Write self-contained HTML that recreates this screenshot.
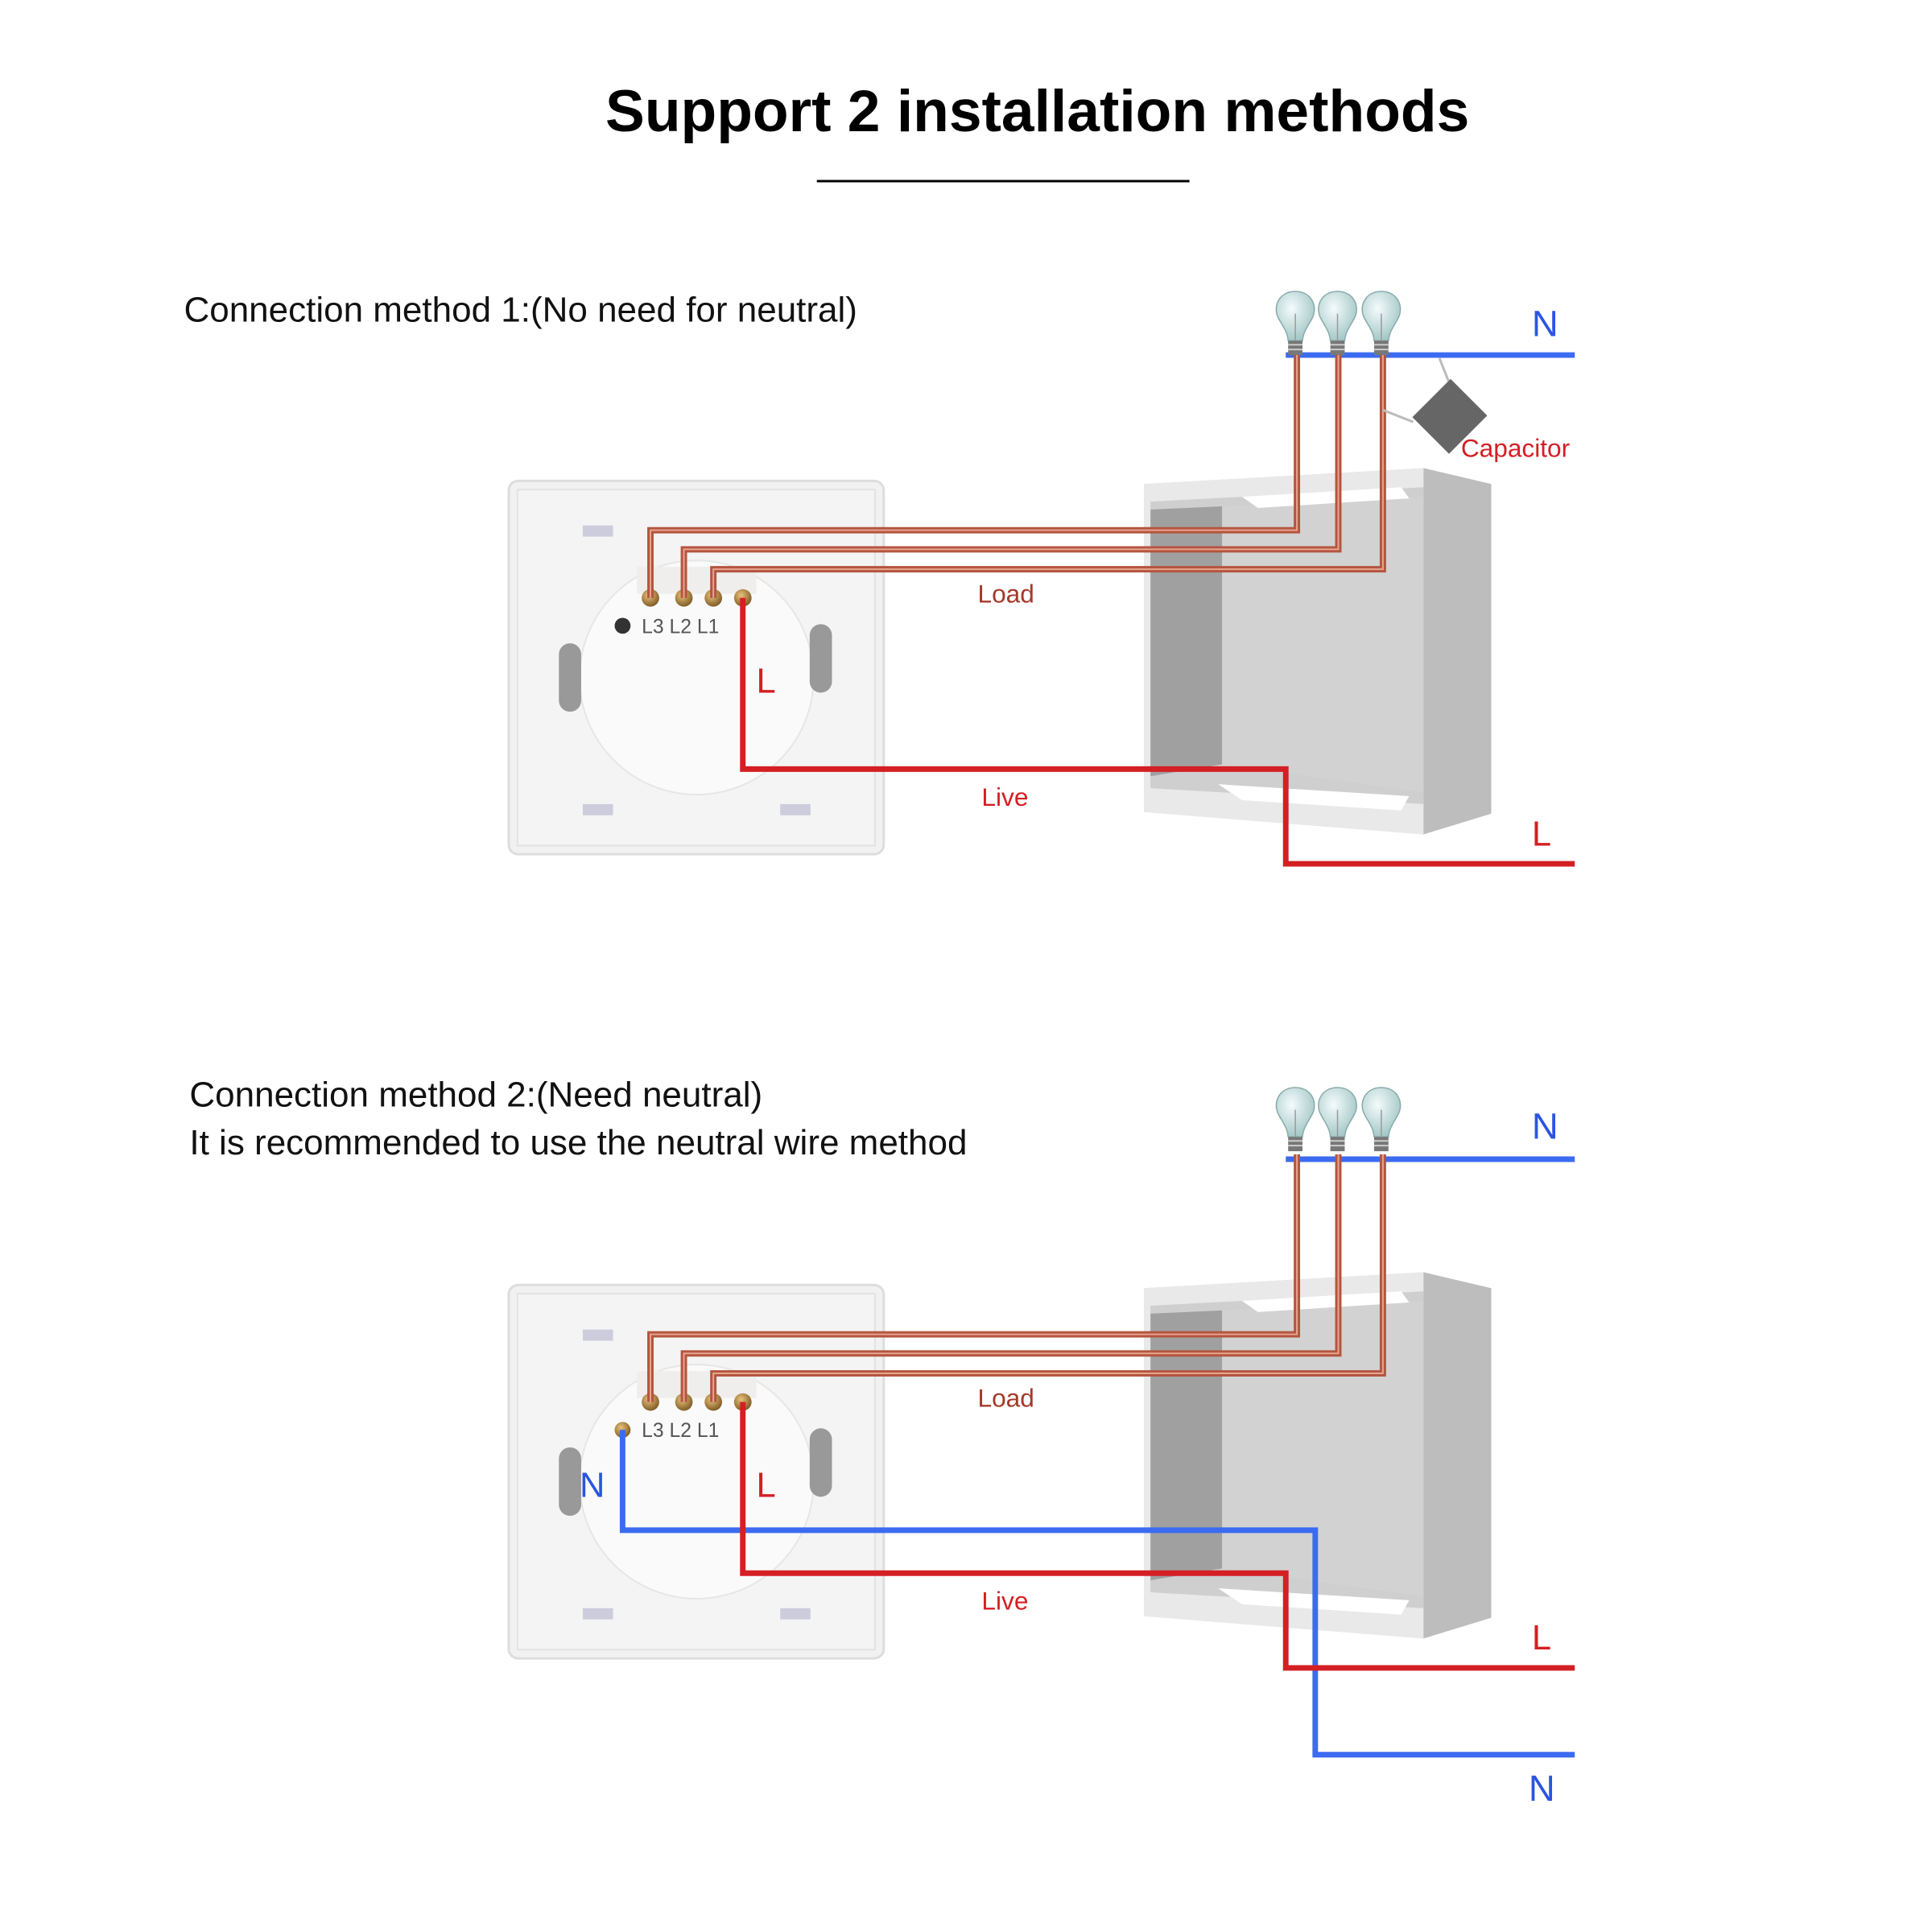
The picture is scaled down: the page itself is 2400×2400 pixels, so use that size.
<!DOCTYPE html>
<html><head><meta charset="utf-8"><style>
html,body{margin:0;padding:0;background:#fff;}
svg{display:block;}
text{font-family:"Liberation Sans",Arial,sans-serif;}
</style></head><body>
<svg width="2400" height="2400" viewBox="0 0 2400 2400" xmlns="http://www.w3.org/2000/svg">
<defs>
<radialGradient id="bulb" cx="0.4" cy="0.35" r="0.7"><stop offset="0" stop-color="#f4fbfb"/><stop offset="1" stop-color="#9fc4c4"/></radialGradient>
<radialGradient id="term" cx="0.4" cy="0.35" r="0.7"><stop offset="0" stop-color="#e8c27a"/><stop offset="1" stop-color="#7a5520"/></radialGradient>
<g id="bulbg">
<path d="M0,-48 c-20,0 -28,18 -22,32 c6,12 12,18 13,30 h18 c1,-12 7,-18 13,-30 c6,-14 -2,-32 -22,-32z" fill="url(#bulb)" stroke="#8aa" stroke-width="1.5"/>
<rect x="-9" y="14" width="18" height="18" fill="#777"/>
<line x1="-9" y1="19" x2="9" y2="19" stroke="#ccc" stroke-width="2"/><line x1="-9" y1="25" x2="9" y2="25" stroke="#ccc" stroke-width="2"/>
<line x1="0" y1="-20" x2="0" y2="14" stroke="#999" stroke-width="1.5"/>
</g>
<g id="plate">
<rect x="639" y="604" width="471" height="469" rx="12" fill="#f1f1f1" stroke="#ddd" stroke-width="3"/>
<rect x="650" y="615" width="449" height="447" fill="#f4f4f4" stroke="#e2e2e2" stroke-width="2"/>
<rect x="732" y="660" width="38" height="14" fill="#ccd"/>
<rect x="732" y="1010" width="38" height="14" fill="#ccd"/>
<rect x="980" y="1010" width="38" height="14" fill="#ccd"/>
<circle cx="875" cy="851" r="147" fill="#fafafa" stroke="#e6e6e6" stroke-width="2"/>
<rect x="702" y="808" width="28" height="86" rx="14" fill="#999"/>
<rect x="1017" y="784" width="28" height="86" rx="14" fill="#999"/>
<rect x="800" y="712" width="150" height="34" fill="#f0eded"/>
<circle cx="817" cy="751" r="11" fill="url(#term)"/>
<circle cx="859" cy="751" r="11" fill="url(#term)"/>
<circle cx="896" cy="751" r="11" fill="url(#term)"/>
<circle cx="933" cy="751" r="11" fill="url(#term)"/>
<text x="806" y="795" font-size="25" fill="#555">L3 L2 L1</text>
</g>
<g id="box">
<polygon points="1437,608 1788,588 1873,608 1873,1022 1788,1048 1437,1020" fill="#d6d6d6"/>
<polygon points="1788,588 1873,608 1873,1022 1788,1048" fill="#bdbdbd"/>
<polygon points="1445,630 1788,612 1788,1010 1445,990" fill="#cfcfcf"/>
<polygon points="1445,640 1535,636 1535,960 1445,975" fill="#a0a0a0"/>
<polygon points="1535,636 1788,624 1788,995 1535,960" fill="#d2d2d2"/>
<polygon points="1437,608 1788,588 1788,612 1445,630 1445,990 1788,1010 1788,1048 1437,1020" fill="#e9e9e9"/>
<polygon points="1560,624 1760,612 1770,626 1580,638" fill="#fff"/>
<polygon points="1530,985 1770,1000 1760,1018 1560,1005" fill="#fff"/>
</g>
</defs>
<g transform="scale(0.989)">
<text x="1303" y="165" font-size="74" font-weight="bold" text-anchor="middle" fill="#000">Support 2 installation methods</text>
<rect x="1026" y="226" width="468" height="3" fill="#000"/>

<text x="231" y="404" font-size="44.5" fill="#111">Connection method 1:(No need for neutral)</text>
<use href="#plate"/>
<use href="#box"/>
<g fill="none" stroke-linejoin="miter">
<path d="M1615,446 H1978" stroke="#3b6bf0" stroke-width="7"/>
<path d="M1629,440 V666 H817 V751 M1681,440 V690 H859 V751 M1737,440 V715 H896 V751" stroke="#b4553f" stroke-width="8"/>
<path d="M1629,440 V666 H817 V751 M1681,440 V690 H859 V751 M1737,440 V715 H896 V751" stroke="#e8a590" stroke-width="2"/>
<path d="M933,751 V966 H1615 V1085 H1978" stroke="#d41f24" stroke-width="7"/>
<path d="M1808,450 L1820,480 M1737,515 L1775,530" stroke="#bbb" stroke-width="3"/>
</g>
<polygon points="1822,476 1868,522 1820,570 1774,524" fill="#666"/>
<use href="#bulbg" x="1627" y="414"/><use href="#bulbg" x="1680" y="414"/><use href="#bulbg" x="1735" y="414"/>
<text x="1924" y="422" font-size="46" fill="#2a55e0">N</text>
<text x="1835" y="574" font-size="32" fill="#d41f24">Capacitor</text>
<text x="1228" y="757" font-size="32" fill="#a33a2a">Load</text>
<text x="1233" y="1012" font-size="32" fill="#d41f24">Live</text>
<text x="950" y="870" font-size="44" fill="#d41f24">L</text>
<text x="1924" y="1062" font-size="44" fill="#d41f24">L</text>
<circle cx="782" cy="786" r="10" fill="#333"/>

<text x="238" y="1390" font-size="44.5" fill="#111">Connection method 2:(Need neutral)</text>
<text x="238" y="1450" font-size="44.5" fill="#111">It is recommended to use the neutral wire method</text>
<g transform="translate(0,1010)">
<use href="#plate"/>
<use href="#box"/>
<circle cx="782" cy="786" r="10" fill="url(#term)"/>
<g fill="none">
<path d="M1615,446 H1978" stroke="#3b6bf0" stroke-width="7"/>
<path d="M1629,440 V666 H817 V751 M1681,440 V690 H859 V751 M1737,440 V715 H896 V751" stroke="#b4553f" stroke-width="8"/>
<path d="M1629,440 V666 H817 V751 M1681,440 V690 H859 V751 M1737,440 V715 H896 V751" stroke="#e8a590" stroke-width="2"/>
<path d="M782,786 V912 H1652 V1194 H1978" stroke="#3b6bf0" stroke-width="7"/>
<path d="M933,751 V966 H1615 V1085 H1978" stroke="#d41f24" stroke-width="7"/>
</g>
<use href="#bulbg" x="1627" y="404"/><use href="#bulbg" x="1680" y="404"/><use href="#bulbg" x="1735" y="404"/>
<text x="1924" y="420" font-size="46" fill="#2a55e0">N</text>
<text x="1228" y="757" font-size="32" fill="#a33a2a">Load</text>
<text x="1233" y="1012" font-size="32" fill="#d41f24">Live</text>
<text x="950" y="870" font-size="44" fill="#d41f24">L</text>
<text x="728" y="870" font-size="44" fill="#2a55e0">N</text>
<text x="1924" y="1062" font-size="44" fill="#d41f24">L</text>
<text x="1920" y="1252" font-size="46" fill="#2a55e0">N</text>
</g>
</g>
</svg>
</body></html>
